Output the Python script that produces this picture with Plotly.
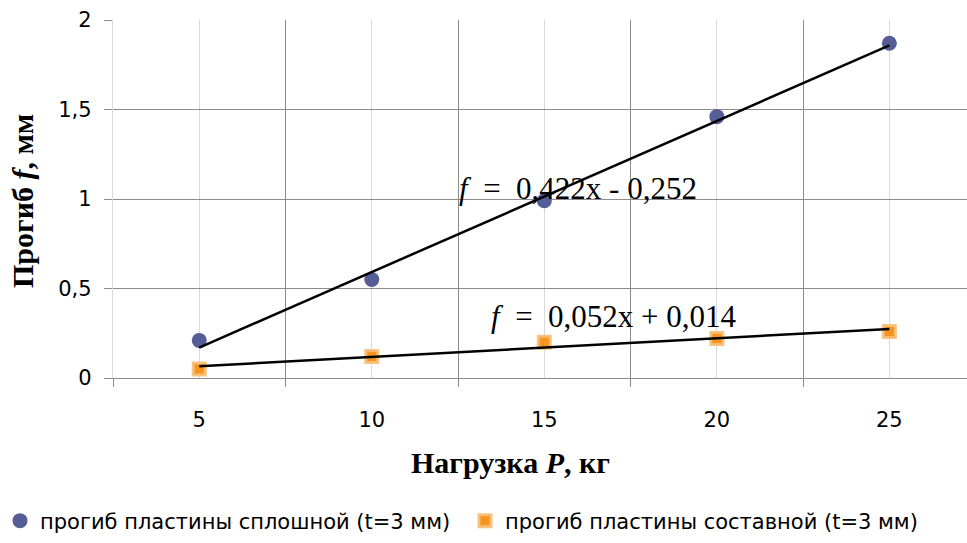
import plotly.graph_objects as go

# Load categories (kg) and measured deflections (mm)
loads = [5, 10, 15, 20, 25]
solid = [0.21, 0.55, 0.99, 1.46, 1.87]
composite = [0.05, 0.12, 0.20, 0.22, 0.26]

# Linear trendlines, fitted over category index x = 1..5
trend_solid = (0.422, -0.252)
trend_comp = (0.052, 0.014)

idx = list(range(1, len(loads) + 1))
fit_solid = [trend_solid[0] * i + trend_solid[1] for i in idx]
fit_comp = [trend_comp[0] * i + trend_comp[1] for i in idx]

DARK = "#8c8c8c"
LIGHT = "#d9d9d9"
SANS = "DejaVu Sans"
TICKFONT = dict(family=SANS, size=21, color="#000000")
SERIF = "Liberation Serif"

fig = go.Figure()

fig.add_trace(go.Scatter(
    x=loads, y=solid, mode="markers",
    name="прогиб пластины сплошной (t=3 мм)", legend="legend",
    marker=dict(symbol="circle", size=15, color="#545d96"),
))
fig.add_trace(go.Scatter(
    x=loads, y=composite, mode="markers",
    name="прогиб пластины составной (t=3 мм)", legend="legend2",
    marker=dict(symbol="square", size=12, color="#f7941d",
                line=dict(color="rgba(250,190,120,0.9)", width=3)),
))
fig.add_trace(go.Scatter(
    x=loads, y=fit_solid, mode="lines", showlegend=False,
    line=dict(color="#000000", width=2.5), hoverinfo="skip",
))
fig.add_trace(go.Scatter(
    x=loads, y=fit_comp, mode="lines", showlegend=False,
    line=dict(color="#000000", width=2.5), hoverinfo="skip",
))

legend_common = dict(
    orientation="h", xref="container", yref="container",
    xanchor="left", y=(543 - 521) / 543, yanchor="middle",
    font=dict(family=SANS, size=21, color="#000000"),
    itemwidth=30, bgcolor="rgba(0,0,0,0)",
)

fig.update_layout(
    width=967, height=543,
    margin=dict(l=113, r=0, t=20, b=165),
    paper_bgcolor="white", plot_bgcolor="white",
    separators=", ",
    showlegend=True,
    legend=dict(legend_common, x=0.0),
    legend2=dict(legend_common, x=465 / 967),
    xaxis=dict(
        range=[2.5, 27.25], tickvals=loads, ticktext=[str(v) for v in loads],
        showgrid=True, gridcolor=LIGHT, gridwidth=1.3,
        ticks="", tickfont=TICKFONT, ticklabelstandoff=23,
        showline=True, linecolor=DARK, linewidth=1.3,
        zeroline=False,
        minor=dict(tick0=2.5, dtick=5, showgrid=True, gridcolor=DARK,
                   gridwidth=1.3, ticks="outside", ticklen=8, tickcolor=DARK),
    ),
    yaxis=dict(
        range=[0, 2], dtick=0.5, tick0=0,
        showgrid=True, gridcolor=DARK, gridwidth=1.3,
        ticks="outside", ticklen=8, tickcolor=DARK,
        tickfont=TICKFONT, ticklabelstandoff=8,
        showline=True, linecolor=LIGHT, linewidth=1.3,
        zeroline=False,
    ),
)

# Axis titles
fig.add_annotation(
    text="<b>Прогиб <i>f</i>, мм</b>", textangle=-90,
    xref="paper", yref="paper", x=(22 - 113) / 854, y=(378 - 201) / 358,
    xanchor="center", yanchor="middle", showarrow=False,
    font=dict(family=SERIF, size=30, color="#000000"),
)
fig.add_annotation(
    text="<b>Нагрузка <i>P</i>, кг</b>",
    xref="paper", yref="paper", x=(510 - 113) / 854, y=-(462 - 378) / 358,
    xanchor="center", yanchor="middle", showarrow=False,
    font=dict(family=SERIF, size=30, color="#000000"),
)

# Trendline equations
fig.add_annotation(
    text="<i>f</i>  =  0,422x - 0,252",
    x=15.98, y=1.061, xref="x", yref="y", showarrow=False,
    font=dict(family=SERIF, size=31, color="#000000"),
)
fig.add_annotation(
    text="<i>f</i>  =  0,052x + 0,014",
    x=17.02, y=0.346, xref="x", yref="y", showarrow=False,
    font=dict(family=SERIF, size=31, color="#000000"),
)

fig.write_html("out.html")
